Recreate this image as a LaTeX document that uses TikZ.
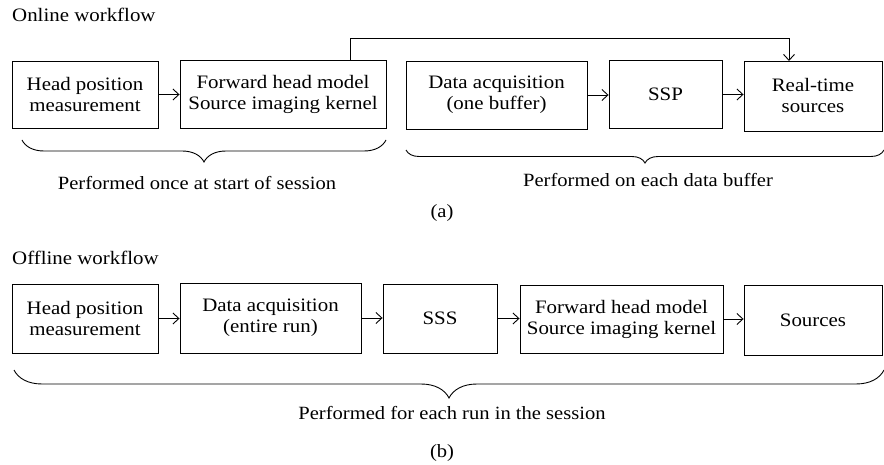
\documentclass[tikz,border=0pt]{standalone}
\usepackage{fontspec}
\setmainfont{Liberation Serif}[FakeStretch=1.1]
\usetikzlibrary{arrows.meta,decorations.pathreplacing}
\begin{document}
\begin{tikzpicture}[x=1pt,y=-1pt,
  every node/.style={font=\fontsize{18.5}{20}\selectfont, inner sep=0pt},
  box/.style={draw, line width=0.9pt, align=center, font=\fontsize{19}{21}\selectfont},
  conn/.style={line width=0.9pt, -{Straight Barb[length=6pt,width=11pt,line width=0.9pt]}},
  bracestyle/.style={line width=0.9pt, decorate, decoration={brace, amplitude=#1}},
  lbl/.style={font=\fontsize{18.7}{20}\selectfont},
  ttl/.style={anchor=west, font=\fontsize{19}{20}\selectfont}
]
\useasboundingbox (0,0) rectangle (884,465);

% ---------- (a) online ----------
\node[ttl] (ton) at (12,15) {Online workflow};
\node[box, minimum width=146, minimum height=67] (a1) at (85,94.5) {Head position\\measurement};
\node[box, minimum width=206, minimum height=68] (a2) at (283,94) {Forward head model\\Source imaging kernel};
\node[box, minimum width=181, minimum height=68] (a3) at (496.5,95) {Data acquisition\\(one buffer)};
\node[box, minimum width=113, minimum height=68] (a4) at (665.5,94.5) {SSP};
\node[box, minimum width=138, minimum height=70] (a5) at (813,96) {Real-time\\sources};

\draw[conn] (a1.east) -- (a1.east -| a2.west);
\draw[conn] (a3.east) -- (a3.east -| a4.west);
\draw[conn] (a4.east) -- (a4.east -| a5.west);
\coordinate (fbs) at (350,60);
\coordinate (fbe) at (789,61);
\draw[conn] (fbs) -- (350,38) -- (789,38) -- (fbe);

\draw[bracestyle=22] (386,140) -- (22,140);
\draw[bracestyle=13] (884,150) -- (406,150);
\node[lbl] (l1) at (197,183) {Performed once at start of session};
\node[lbl] (l2) at (648,180) {Performed on each data buffer};
\node[lbl] (la) at (442,213) {(a)};

% ---------- (b) offline ----------
\node[ttl] (toff) at (12,258) {Offline workflow};
\node[box, minimum width=146, minimum height=69] (b1) at (85,318.5) {Head position\\measurement};
\node[box, minimum width=181, minimum height=70] (b2) at (270.5,318) {Data acquisition\\(entire run)};
\node[box, minimum width=114, minimum height=69] (b3) at (440,318.5) {SSS};
\node[box, minimum width=203, minimum height=68] (b4) at (621.5,319) {Forward head model\\Source imaging kernel};
\node[box, minimum width=138, minimum height=70] (b5) at (813,320) {Sources};

\draw[conn] (b1.east) -- (b1.east -| b2.west);
\draw[conn] (b2.east) -- (b2.east -| b3.west);
\draw[conn] (b3.east) -- (b3.east -| b4.west);
\draw[conn] (b4.east) -- (b4.east -| b5.west);

\draw[bracestyle=28] (884,370) -- (14,370);
\node[lbl] (l3) at (452,413) {Performed for each run in the session};
\node[lbl] (lb) at (442,453) {(b)};
\end{tikzpicture}
\end{document}
